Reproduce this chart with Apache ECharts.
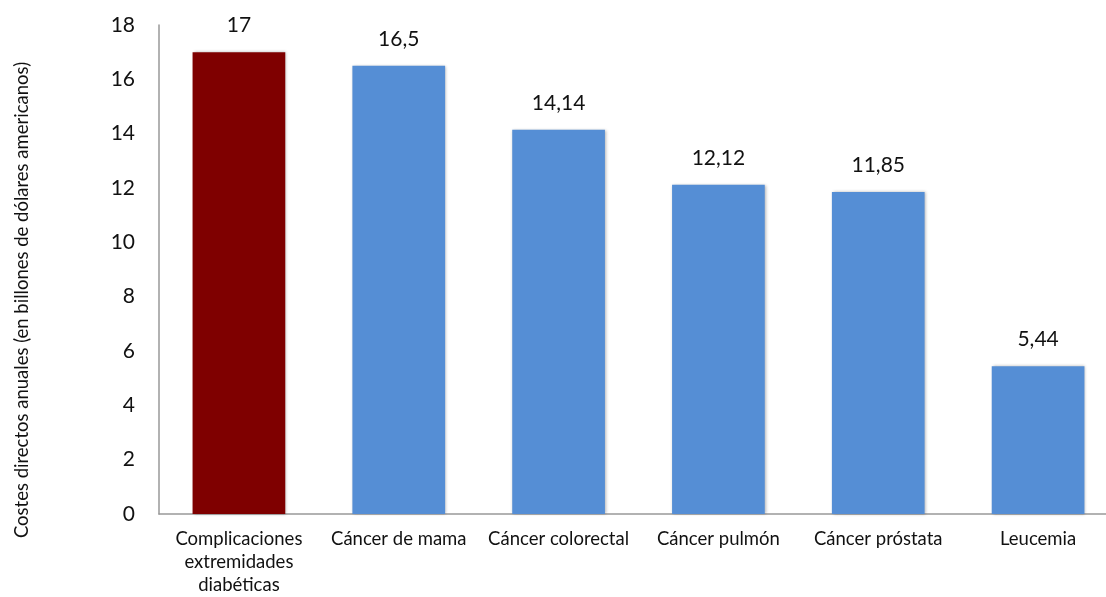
<!DOCTYPE html>
<html>
<head>
<meta charset="utf-8">
<script src="https://cdn.jsdelivr.net/npm/echarts@6/dist/echarts.min.js"></script>
<style>
html,body{margin:0;padding:0;background:#fff;}
#chart{width:1106px;height:597px;}
</style>
</head>
<body>
<div id="chart"></div>
<script>
const categories = ['Complicaciones\nextremidades\ndiabéticas', 'Cáncer de mama', 'Cáncer colorectal', 'Cáncer pulmón', 'Cáncer próstata', 'Leucemia'];
const values = [17, 16.5, 14.14, 12.12, 11.85, 5.44];
const yTicks = [0, 2, 4, 6, 8, 10, 12, 14, 16, 18];
const yAxisTitle = 'Costes directos anuales (en billones de dólares americanos)';

const FONT = 'Lato, "Open Sans", sans-serif';
const chart = echarts.init(document.getElementById('chart'));
chart.setOption({
  animation: false,
  grid: { left: 159, width: 959, top: 25, bottom: 83, containLabel: false, outerBoundsMode: 'none' },
  xAxis: {
    type: 'category',
    data: categories,
    axisLine: { lineStyle: { color: '#999', width: 1.5 } },
    axisTick: { show: false },
    axisLabel: { color: '#111', fontFamily: FONT, fontSize: 18.5, lineHeight: 23, margin: 14, interval: 0 }
  },
  yAxis: {
    type: 'value',
    min: yTicks[0], max: yTicks[yTicks.length - 1], interval: 2,
    axisLine: { show: true, lineStyle: { color: '#999', width: 1.5 } },
    axisTick: { show: false },
    splitLine: { show: false },
    axisLabel: { color: '#111', fontFamily: FONT, fontSize: 21, margin: 24 }
  },
  graphic: [{
    type: 'text',
    x: 22, y: 300,
    rotation: Math.PI / 2,
    style: { text: yAxisTitle, fill: '#111', font: '18.5px ' + FONT, textAlign: 'center', textVerticalAlign: 'middle' }
  }],
  series: [{
    type: 'bar',
    data: values.map((v, i) => i === 0 ? { value: v, itemStyle: { color: '#7f0000' } } : v),
    barCategoryGap: '42%',
    itemStyle: { color: '#558ed5', shadowColor: 'rgba(0,0,0,0.3)', shadowBlur: 3, shadowOffsetX: 1, shadowOffsetY: 0 },
    label: {
      show: true, position: 'top', distance: 16,
      color: '#111', fontFamily: FONT, fontSize: 21,
      formatter: p => String(p.value).replace('.', ',')
    }
  }]
});
</script>
</body>
</html>
